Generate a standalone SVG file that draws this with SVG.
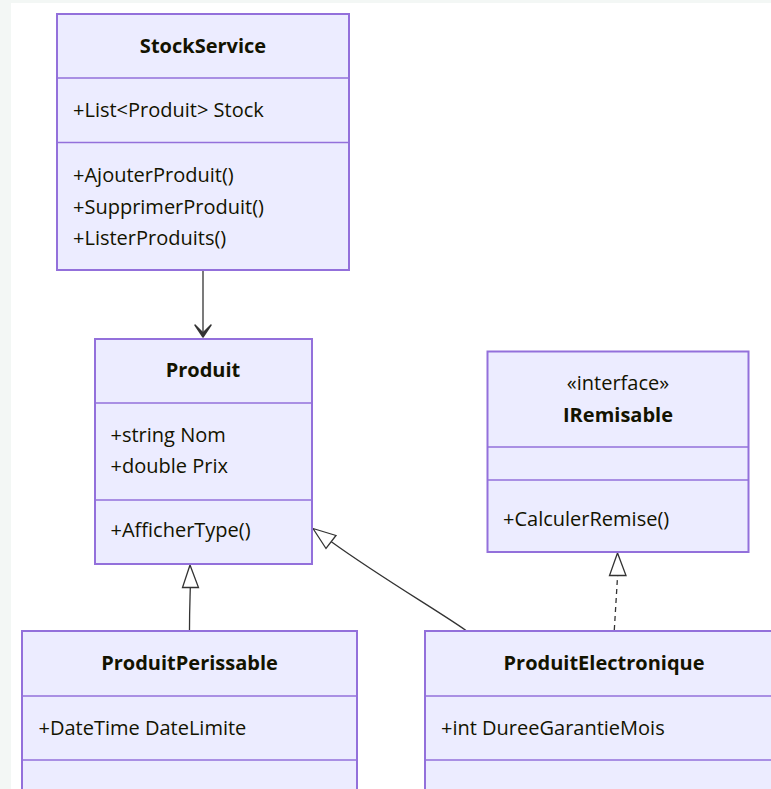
<svg xmlns="http://www.w3.org/2000/svg" width="771" height="789" viewBox="0 0 771 789">
<style>
.box{fill:#ECECFF;stroke:#9370DB;stroke-width:2}
.div{stroke:#9370DB;stroke-width:1.3}
.t{font-family:"Open Sans","Liberation Sans",sans-serif;font-size:20px;fill:#131300}
.b{font-weight:bold;text-anchor:middle}
.c{text-anchor:middle}
.edge{fill:none;stroke:#333;stroke-width:1.3}
.tri{fill:#fff;stroke:#333;stroke-width:1.3}
</style>
<rect x="0" y="0" width="771" height="789" fill="#f3f7f5"/>
<rect x="11" y="3" width="760" height="786" fill="#fff"/>
<g id="edges">
<path class="edge" d="M203,271 L203,335" stroke="#555"/>
<path d="M195,325 L203,333 L211,325 L203,337 Z" fill="#333" stroke="#333" stroke-width="1.5" stroke-linejoin="round"/>
<path class="edge" d="M189.5,630 C189.5,610 190,600 190.3,587.5"/>
<path class="tri" d="M190,565 L182.5,587.5 L198.5,587.5 Z"/>
<path class="edge" d="M466,630.5 C440,612 380,577 331,541.5"/>
<path class="tri" d="M313,528.5 L336,535.5 L326,548.5 Z"/>
<path class="edge" d="M614.3,630 L617.6,575.5" stroke-dasharray="5,4"/>
<path class="tri" d="M617.5,553 L609.5,575.5 L626,575.5 Z"/>
</g>
<g id="StockService">
<rect class="box" x="57" y="14" width="292" height="256"/>
<line class="div" x1="57" y1="78" x2="349" y2="78"/>
<line class="div" x1="57" y1="142.5" x2="349" y2="142.5"/>
<text class="t b" x="203" y="53">StockService</text>
<text class="t" x="73" y="117">+List&lt;Produit&gt; Stock</text>
<text class="t" x="73" y="182">+AjouterProduit()</text>
<text class="t" x="73" y="214">+SupprimerProduit()</text>
<text class="t" x="73" y="245">+ListerProduits()</text>
</g>
<g id="Produit">
<rect class="box" x="95" y="339" width="217" height="225"/>
<line class="div" x1="95" y1="403" x2="312" y2="403"/>
<line class="div" x1="95" y1="500" x2="312" y2="500"/>
<text class="t b" x="203" y="377">Produit</text>
<text class="t" x="110.5" y="442">+string Nom</text>
<text class="t" x="110.5" y="473">+double Prix</text>
<text class="t" x="110.5" y="537">+AfficherType()</text>
</g>
<g id="IRemisable">
<rect class="box" x="487.5" y="351.5" width="261" height="200.5"/>
<line class="div" x1="487.5" y1="447" x2="748.5" y2="447"/>
<line class="div" x1="487.5" y1="480" x2="748.5" y2="480"/>
<text class="t c" x="618" y="390">«interface»</text>
<text class="t b" x="618" y="422">IRemisable</text>
<text class="t" x="503" y="526">+CalculerRemise()</text>
</g>
<g id="ProduitPerissable">
<rect class="box" x="22" y="631" width="335" height="200"/>
<line class="div" x1="22" y1="696" x2="357" y2="696"/>
<line class="div" x1="22" y1="760" x2="357" y2="760"/>
<text class="t b" x="189.5" y="670">ProduitPerissable</text>
<text class="t" x="38.5" y="735">+DateTime DateLimite</text>
</g>
<g id="ProduitElectronique">
<rect class="box" x="425" y="631" width="360" height="200"/>
<line class="div" x1="425" y1="696" x2="785" y2="696"/>
<line class="div" x1="425" y1="760" x2="785" y2="760"/>
<text class="t b" x="604" y="670">ProduitElectronique</text>
<text class="t" x="441" y="735">+int DureeGarantieMois</text>
</g>
</svg>
